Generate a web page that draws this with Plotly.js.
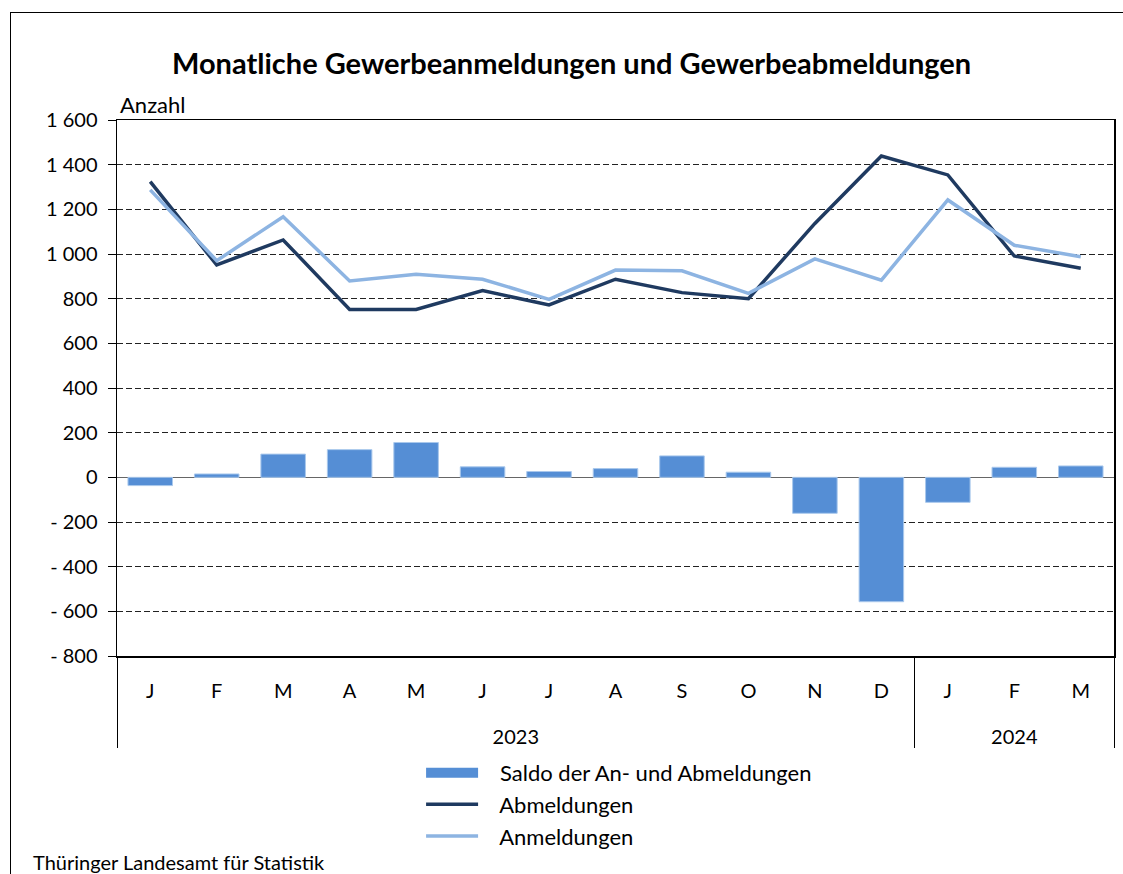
<!DOCTYPE html>
<html>
<head>
<meta charset="utf-8">
<script src="https://cdn.plot.ly/plotly-3.0.1.min.js"></script>
<style>
  html, body { margin: 0; padding: 0; background: #fff; }
  #chart { width: 1123px; height: 874px; }
  #frame { position: absolute; left: 10px; top: 12px; width: 1200px; height: 900px;
           border-left: 1.5px solid #000; border-top: 1.5px solid #000; pointer-events: none; }
</style>
</head>
<body>
<div id="chart"></div>
<div id="frame"></div>
<script>
const years = ['2023','2023','2023','2023','2023','2023','2023','2023','2023','2023','2023','2023','2024','2024','2024'];
const months = ['J','F','M','A','M','J','J','A','S','O','N','D','J','F','M'];
const abmeldungen = [1324, 951, 1063, 752, 752, 836, 772, 887, 827, 800, 1137, 1439, 1354, 991, 936];
const anmeldungen = [1287, 970, 1167, 879, 909, 887, 797, 928, 925, 824, 978, 883, 1242, 1039, 988];
const saldo = [-37, 15, 104, 124, 156, 47, 26, 39, 96, 23, -161, -557, -112, 45, 51];
const yTickVals = [1600, 1400, 1200, 1000, 800, 600, 400, 200, 0, -200, -400, -600, -800];
const yTickText = ['1 600','1 400','1 200','1 000','800','600','400','200','0','- 200','- 400','- 600','- 800'];
const seriesNames = ['Saldo der An- und Abmeldungen', 'Abmeldungen', 'Anmeldungen'];

// make month labels unique within a year (zero-width spaces) so repeated letters stay separate categories;
// a trailing blank line gives the year row its extra distance
const seen = {};
const monthKeys = months.map((m, i) => {
  const k = years[i] + '|' + m;
  seen[k] = (seen[k] || 0) + 1;
  return m + '\u200b'.repeat(seen[k] - 1) + '<br><span style="font-size:50px">\u00a0</span>';
});
const x = [years, monthKeys];

const FONT = 'Lato, "Noto Sans", sans-serif';
const GAP = '\u00a0\u00a0\u00a0';

const traces = [
  { type: 'bar', name: seriesNames[0], x: x, y: saldo, showlegend: false,
    marker: { color: '#558ed5', line: { color: '#a9c8ec', width: 1 } } },
  { type: 'scatter', mode: 'lines', name: GAP + seriesNames[0], x: [[null],[null]], y: [null],
    line: { color: '#558ed5', width: 18 }, hoverinfo: 'skip' },
  { type: 'scatter', mode: 'lines', name: GAP + seriesNames[1], x: x, y: abmeldungen,
    line: { color: '#1f3a60', width: 3.5 } },
  { type: 'scatter', mode: 'lines', name: GAP + seriesNames[2], x: x, y: anmeldungen,
    line: { color: '#8db4e2', width: 3.5 } }
];

const layout = {
  width: 1123, height: 874,
  margin: { l: 117, r: 9, t: 120, b: 218 },
  paper_bgcolor: '#fff', plot_bgcolor: '#fff',
  font: { family: FONT, size: 20, color: '#000' },
  bargap: 0.33,
  showlegend: true,
  title: { text: '<b>Monatliche Gewerbeanmeldungen und Gewerbeabmeldungen</b>',
           x: 0.509, xanchor: 'center', y: 0.927, yanchor: 'middle',
           font: { family: FONT, size: 29, color: '#000' } },
  xaxis: {
    type: 'multicategory',
    showline: true, linecolor: '#000', linewidth: 1.5, mirror: true,
    showgrid: false, zeroline: false,
    showdividers: true, dividercolor: '#000', dividerwidth: 1,
    ticks: '', ticklabelstandoff: 16,
    tickfont: { family: FONT, size: 20, color: '#000' }
  },
  yaxis: {
    range: [-800, 1600], tickmode: 'array', tickvals: yTickVals, ticktext: yTickText,
    showline: true, linecolor: '#000', linewidth: 1.5, mirror: true,
    ticks: 'outside', ticklen: 8, tickcolor: '#000', ticklabelstandoff: 6,
    showgrid: true, gridcolor: '#222', gridwidth: 1, griddash: '6px,3px',
    zeroline: true, zerolinecolor: '#666', zerolinewidth: 1.5,
    tickfont: { family: FONT, size: 20, color: '#000' }
  },
  legend: {
    x: 0.305, xanchor: 'left', y: -0.179, yanchor: 'top',
    orientation: 'v', traceorder: 'normal', itemwidth: 52,
    font: { family: FONT, size: 22, color: '#000' }, tracegroupgap: 0,
    bgcolor: 'rgba(0,0,0,0)'
  },
  annotations: [
    { text: 'Anzahl', xref: 'paper', yref: 'paper', x: 0.001, y: 1.0, xanchor: 'left', yanchor: 'bottom',
      showarrow: false, font: { family: FONT, size: 22, color: '#000' } },
    { text: 'Thüringer Landesamt für Statistik', xref: 'paper', yref: 'paper',
      x: -0.086, y: -0.385, xanchor: 'left', yanchor: 'middle',
      showarrow: false, font: { family: FONT, size: 20, color: '#000' } }
  ]
};

Plotly.newPlot('chart', traces, layout, { displayModeBar: false, staticPlot: true });
</script>
</body>
</html>
